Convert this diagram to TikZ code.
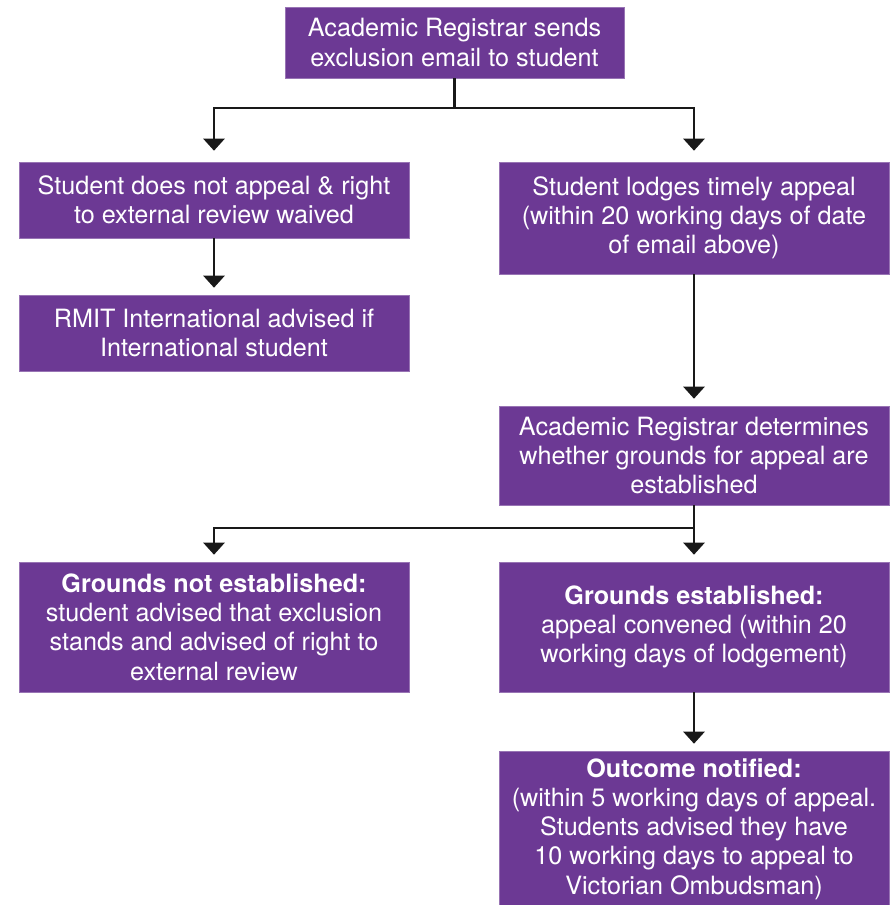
\documentclass[tikz,border=0pt]{standalone}
\usepackage{fontspec}
\setmainfont{TeX Gyre Heros}
\usetikzlibrary{arrows.meta}
\definecolor{rmitpurple}{RGB}{108,57,148}
\tikzset{
  box/.style={rectangle, fill=rmitpurple, draw=rmitpurple!70!white, line width=0.6pt, text=white, align=center,
    font=\fontsize{25.2}{29.2}\selectfont, inner sep=0pt},
  conn/.style={line width=2.6pt, draw=black!90},
  arr/.style={conn, -{Triangle[width=21pt,length=12pt]}, shorten >=7pt},
}
\begin{document}
\begin{tikzpicture}[x=1pt,y=-1pt]
\useasboundingbox (0,0) rectangle (892,905);
\node[box, minimum width=339pt, minimum height=71pt] (top) at (454.5,42.5) {Academic Registrar sends\\exclusion email to student};
\node[box, minimum width=390pt, minimum height=76pt] (l1) at (214,200) {Student does not appeal \& right\\to external review waived};
\node[box, minimum width=390pt, minimum height=76pt] (l2) at (214,333) {RMIT International advised if\\International student};
\node[box, minimum width=390pt, minimum height=112pt] (r1) at (694,218) {Student lodges timely appeal\\(within 20 working days of date\\of email above)};
\node[box, minimum width=390pt, minimum height=99pt] (r2) at (694,455.5) {Academic Registrar determines\\whether grounds for appeal are\\established};
\node[box, minimum width=390pt, minimum height=130pt] (l3) at (214,627) {{\bfseries Grounds not established:}\\student advised that exclusion\\stands and advised of right to\\external review};
\node[box, minimum width=390pt, minimum height=130pt] (r3) at (694,627) {{\bfseries Grounds established:}\\appeal convened (within 20\\working days of lodgement)};
\node[box, minimum width=390pt, minimum height=156pt] (r4) at (694,829) {{\bfseries Outcome notified:}\\(within 5 working days of appeal.\\Students advised they have\\10 working days to appeal to\\Victorian Ombudsman)};
\coordinate (j1) at (454.5,108);
\coordinate (j2) at (694,528);
\draw[conn] (top.south) -- (j1);
\draw[arr, shorten >=11pt] (j1) -| (l1.north);
\draw[arr, shorten >=11pt] (j1) -| (r1.north);
\draw[arr] (l1.south) -- (l2.north);
\draw[arr] (r1.south) -- (r2.north);
\draw[conn] (r2.south) -- (j2);
\draw[arr] (j2) -| (l3.north);
\draw[arr] (j2) -- (r3.north);
\draw[arr] (r3.south) -- (r4.north);
\end{tikzpicture}
\end{document}
